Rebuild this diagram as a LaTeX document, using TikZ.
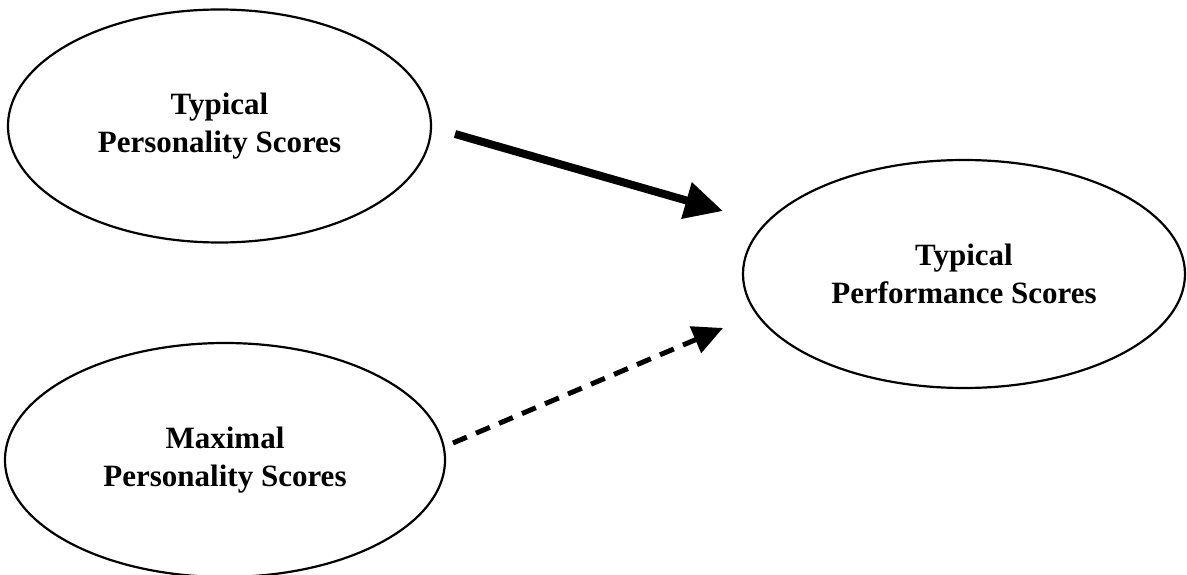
\documentclass[tikz,border=0pt]{standalone}
\usepackage{fontspec}
\setmainfont{Liberation Serif}
\usetikzlibrary{shapes.geometric,arrows.meta}
\begin{document}
\begin{tikzpicture}[x=1pt,y=-1pt,
  construct/.style={draw=black,line width=2.2pt,ellipse,inner sep=0pt,align=center,
    font=\fontsize{31}{38}\selectfont\bfseries},
  strong/.style={line width=8pt,-{Triangle[length=38pt,width=36pt]}},
  weak/.style={line width=5pt,dash pattern=on 15pt off 10pt,-{Triangle[length=30pt,width=28pt]}}]
\useasboundingbox (0,0) rectangle (1187,575);
\node[construct,minimum width=423pt,minimum height=233pt] (tp) at (219.5,126) {Typical\\Personality Scores};
\node[construct,minimum width=440pt,minimum height=234pt] (mp) at (225,460) {Maximal\\Personality Scores};
\node[construct,minimum width=442pt,minimum height=228pt] (perf) at (964,274) {Typical\\Performance Scores};
\coordinate (s1) at (455,134);
\coordinate (e1) at (723,211);
\coordinate (s2) at (453,443);
\coordinate (e2) at (723,328);
\draw[strong] (s1) -- (e1);
\draw[weak] (s2) -- (e2);
\end{tikzpicture}
\end{document}
